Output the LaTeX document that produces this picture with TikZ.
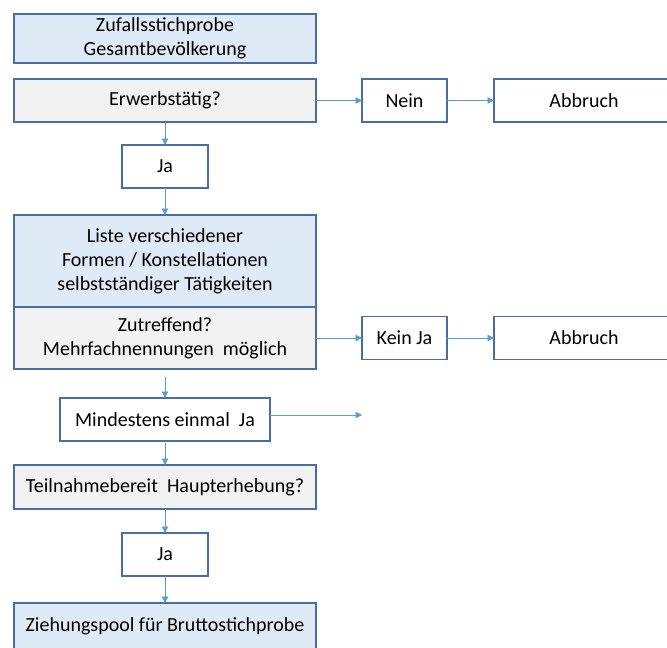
\documentclass[tikz,border=0pt]{standalone}
\usepackage{fontspec}
\setmainfont{Carlito}
\usepackage{tikz}
\usepackage{xcolor}
\usetikzlibrary{shapes.geometric, arrows.meta, positioning}
\definecolor{rand}{HTML}{4A6DA7}
\definecolor{hellblau}{HTML}{DEEBF7}
\definecolor{hellgrau}{HTML}{F2F2F2}
\definecolor{pfeil}{HTML}{5B9BD5}
\tikzstyle{stufe} = [rectangle, minimum width=302pt, minimum height=43pt, text centered, align=center, inner sep=0pt, outer sep=0pt, line width=1.3pt, draw=rand, fill=hellblau, font=\fontsize{20}{24}\selectfont]
\tikzstyle{frage} = [stufe, fill=hellgrau]
\tikzstyle{antwort} = [stufe, minimum width=86pt, fill=white]
\tikzstyle{abbruch} = [stufe, minimum width=180pt, fill=white]
\tikzstyle{arrow} = [line width=0.9pt, -{Triangle[length=6.5pt,width=6.5pt]}, pfeil]

\begin{document}
\begin{tikzpicture}[x=1pt, y=-1pt]
		\clip (0,0) rectangle (667,648);
		\node (start) [stufe, minimum height=49pt] at (165,38.5) {Zufallsstichprobe\\Gesamtbevölkerung};
		\node (erw) [frage, below=16pt of start] {Erwerbstätig?};
		\node (nein) [antwort, minimum width=85pt, right=46pt of erw] {Nein};
		\node (abbr1) [abbruch, anchor=west] at ([xshift=47pt]nein.east) {Abbruch};
		\node (ja1) [antwort, below=23pt of erw] {Ja};
		\node (liste) [stufe, minimum height=92pt, below=27pt of ja1] {Liste verschiedener\\Formen / Konstellationen\\selbstständiger Tätigkeiten};
		\node (zutr) [frage, minimum height=62pt, below=0pt of liste] {Zutreffend?\\Mehrfachnennungen\ \ möglich};
		\node (keinja) [antwort, minimum width=85pt, right=46pt of zutr] {Kein Ja};
		\node (abbr2) [abbruch, anchor=west] at ([xshift=47pt]keinja.east) {Abbruch};
		\node (mind) [antwort, minimum width=210pt, below=29pt of zutr] {Mindestens einmal\ \ Ja};
		\node (teil) [frage, minimum height=44pt, below=24pt of mind] {Teilnahmebereit\ \ Haupterhebung?};
		\node (ja2) [antwort, below=24pt of teil] {Ja};
		\node (zieh) [stufe, minimum height=46pt, below=27pt of ja2] {Ziehungspool für Bruttostichprobe};
		\coordinate (offen) at (362,415);
		
		\draw [arrow] (erw) -- (nein);
		\draw [arrow] (nein) -- (abbr1);
		\draw [arrow] (erw) -- (ja1);
		\draw [arrow] (ja1) -- (liste);
		\draw [arrow] (zutr) -- (keinja);
		\draw [arrow] (keinja) -- (abbr2);
		\draw [arrow, shorten <=8pt] (zutr) -- (mind);
		\draw [arrow] (mind.east |- offen) -- (offen);
		\draw [arrow, shorten <=2pt] (mind) -- (teil);
		\draw [arrow] (teil) -- (ja2);
		\draw [arrow] (ja2) -- (zieh);
	\end{tikzpicture}
\end{document}
